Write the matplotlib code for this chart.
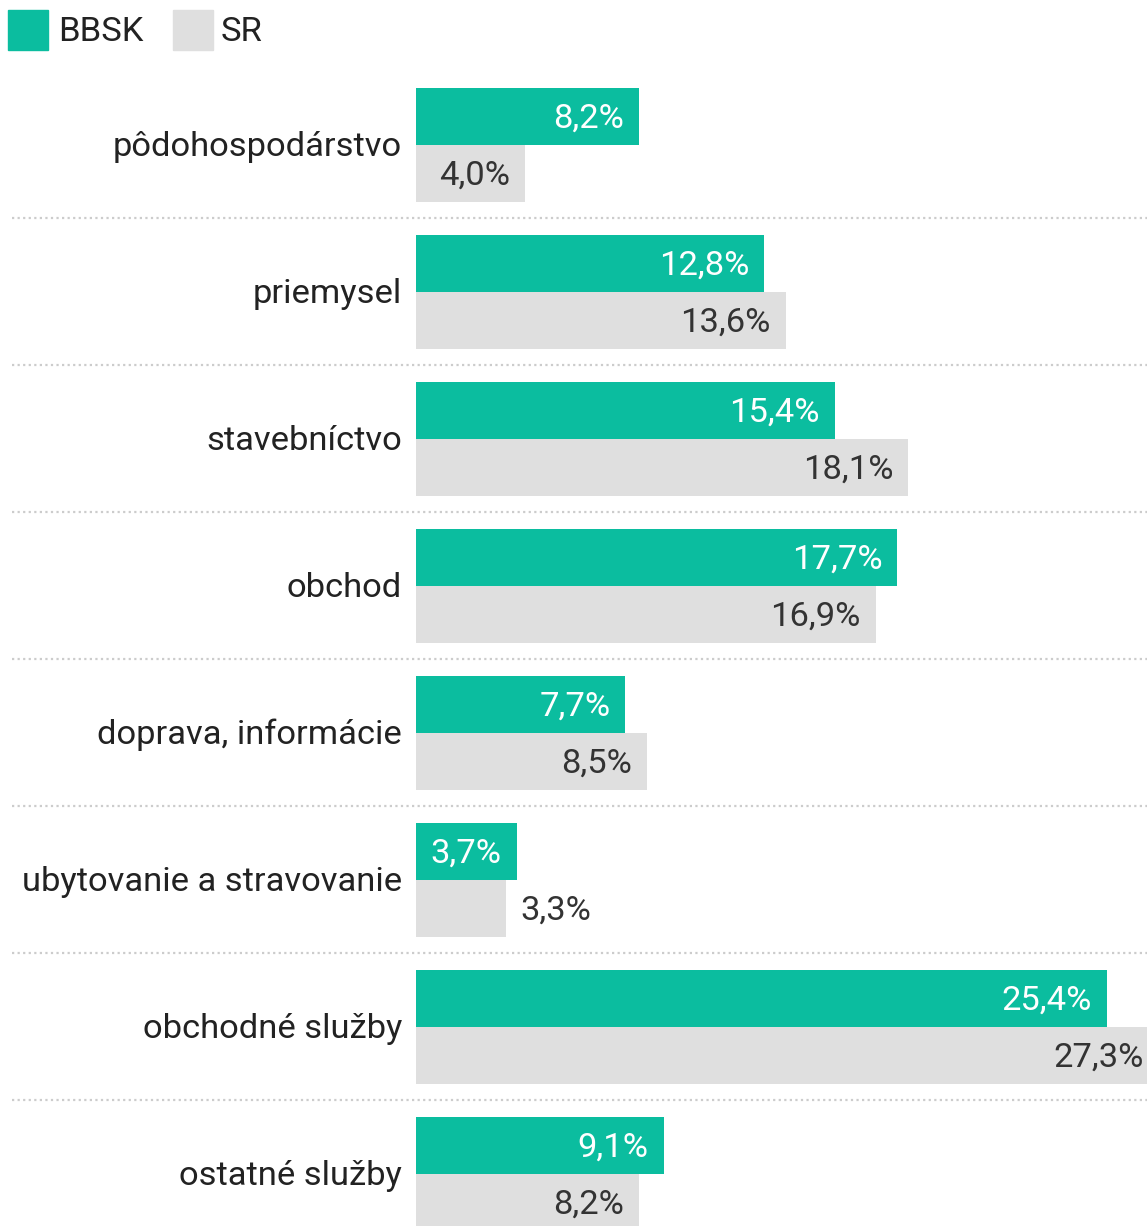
import numpy as np
import matplotlib.pyplot as plt
from matplotlib.patches import Rectangle

categories = ['pôdohospodárstvo', 'priemysel', 'stavebníctvo', 'obchod',
              'doprava, informácie', 'ubytovanie a stravovanie',
              'obchodné služby', 'ostatné služby']
bbsk = [8.2, 12.8, 15.4, 17.7, 7.7, 3.7, 25.4, 9.1]
sr = [4.0, 13.6, 18.1, 16.9, 8.5, 3.3, 27.3, 8.2]
series_names = ['BBSK', 'SR']

TEAL = '#0bbd9f'
GREY = '#dfdfdf'

plt.rcParams['font.family'] = ['Roboto', 'DejaVu Sans']

W, H = 1147, 1226
fig = plt.figure(figsize=(W / 100, H / 100), dpi=100)

# bars start at x=416px, 27.2 px per percent, one group every 147 px
px_per_pct = 27.2
left_px = 416
ax = fig.add_axes([left_px / W, 0, (W - left_px) / W, 1])
ax.set_xlim(0, (W - left_px) / px_per_pct)
ax.set_ylim(H / 147, 0)
ax.axis('off')

bar_h = 57 / 147
centers = np.arange(len(categories)) + 145 / 147
fs = 24.8
dy = 2 / 147  # labels sit a touch below the bar middle

ax.barh(centers - bar_h / 2, bbsk, height=bar_h, color=TEAL, clip_on=False)
ax.barh(centers + bar_h / 2, sr, height=bar_h, color=GREY)

pad = 15 / px_per_pct
for c, b, s in zip(centers, bbsk, sr):
    ax.text(b - pad, c - bar_h / 2 + dy, f'{b:.1f}%'.replace('.', ','), color='white',
            ha='right', va='center', fontsize=fs)
    lab = f'{s:.1f}%'.replace('.', ',')
    if s < 3.5:
        ax.text(s + pad, c + bar_h / 2 + dy, lab, color='#333333',
                ha='left', va='center', fontsize=fs)
    else:
        ax.text(s - pad, c + bar_h / 2 + dy, lab, color='#333333',
                ha='right', va='center', fontsize=fs, clip_on=False)

for c, name in zip(centers, categories):
    ax.text(-14 / px_per_pct, c + dy, name, ha='right', va='center',
            fontsize=fs, color='#222222')

# dotted separators between groups
x0 = -(left_px - 12) / px_per_pct
for c in centers[:-1]:
    ax.plot([x0, ax.get_xlim()[1]], [c + 0.497, c + 0.497], ls=(0, (1, 1.5)),
            color='#cccccc', lw=1.6, clip_on=False)

# legend drawn by hand at the top left
for x_sq, x_txt, col, name in [(8, 58, TEAL, series_names[0]), (173, 221, GREY, series_names[1])]:
    fig.patches.append(Rectangle((x_sq / W, 1 - 50 / H), 40 / W, 40 / H,
                                 transform=fig.transFigure, color=col))
    fig.text(x_txt / W, 1 - 32 / H, name, ha='left', va='center',
             fontsize=fs, color='#222222')

fig.savefig('out.png', dpi=100)
